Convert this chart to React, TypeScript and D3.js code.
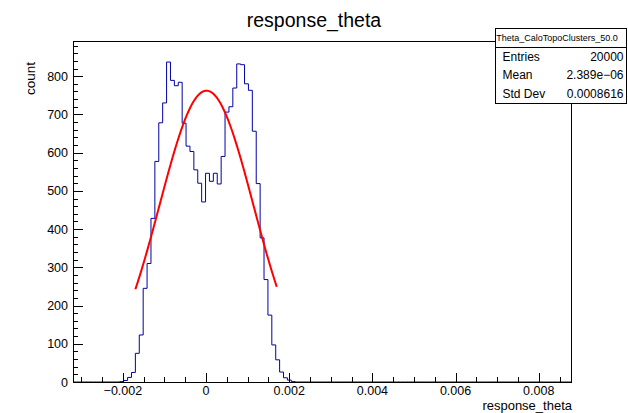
import React from "react";
import * as d3 from "d3";

// ---- data ----
const histLow = -0.0032;
const histHigh = 0.0088;
const nBins = 128;
const firstFilledBin = 12;
const counts = [1, 4, 12, 25, 75, 123, 245, 310, 428, 577, 678, 730, 837, 789, 775, 784, 677, 617, 603, 555, 520, 471, 546, 525, 546, 518, 590, 706, 720, 769, 832, 830, 780, 763, 656, 519, 377, 268, 175, 97, 58, 26, 11, 5, 1];

const fitConstant = 762;
const fitMean = 0.00001;
const fitSigma = 0.00113;
const fitRange = [-0.0017, 0.0017];

const xMajorTicks = [-0.002, 0, 0.002, 0.004, 0.006, 0.008];
const xTickLabels = ["\u22120.002", "0", "0.002", "0.004", "0.006", "0.008"];
const yMajorTicks = [0, 100, 200, 300, 400, 500, 600, 700, 800];
const yTickLabels = ["0", "100", "200", "300", "400", "500", "600", "700", "800"];
const yMax = 892;

const title = "response_theta";
const xTitle = "response_theta";
const yTitle = "count";
const statsName = "Theta_CaloTopoClusters_50.0";
const statsLabels = ["Entries", "Mean", "Std Dev"];
const statsValues = ["20000", "2.389e\u221206", "0.0008616"];

const FONT = "'Liberation Sans', Arial, Helvetica, sans-serif";

export default function App() {
  const W = 628, H = 413;
  const left = 73, right = 572, top = 41, bottom = 382;
  const x = d3.scaleLinear().domain([histLow, histHigh]).range([left, right]);
  const y = d3.scaleLinear().domain([0, yMax]).range([bottom, top]);
  const bw = (histHigh - histLow) / nBins;

  // histogram step path
  const full: number[] = new Array(nBins).fill(0);
  counts.forEach((c, i) => { full[firstFilledBin + i] = c; });
  let p = `M${x(histLow)},${y(0)}`;
  full.forEach((c, k) => {
    const x0 = x(histLow + k * bw), x1 = x(histLow + (k + 1) * bw);
    p += `L${x0},${y(c)}L${x1},${y(c)}`;
  });
  p += `L${x(histHigh)},${y(0)}`;

  // fit curve
  const fitPts: [number, number][] = [];
  const nFit = 200;
  for (let i = 0; i <= nFit; i++) {
    const v = fitRange[0] + (fitRange[1] - fitRange[0]) * i / nFit;
    fitPts.push([v, fitConstant * Math.exp(-0.5 * ((v - fitMean) / fitSigma) ** 2)]);
  }
  const fitLine = d3.line<[number, number]>().x(d => x(d[0])).y(d => y(d[1]))(fitPts) || "";

  const xMinor: number[] = [];
  for (let i = -6; i <= 17; i++) xMinor.push(i * 0.0005);
  const yMinor: number[] = [];
  for (let v = 0; v <= yMax; v += 20) yMinor.push(v);

  const sx = 495.5, sy = 28.5, sw = 131, sh = 75;
  const rowH = sh / 4;

  return (
    <svg width={W} height={H} style={{ position: "absolute", left: 0, top: 0, background: "#fff" }} fontFamily={FONT}>
      <rect x={0} y={0} width={W} height={H} fill="#fff" />
      <text x={314} y={27} textAnchor="middle" fontSize={19.5} fill="#000">{title}</text>

      {/* frame */}
      <rect x={left + 0.5} y={top + 0.5} width={right - left - 1} height={bottom - top} fill="none" stroke="#000" strokeWidth={1} shapeRendering="crispEdges" />

      {/* histogram */}
      <path d={p} fill="none" stroke="#0000a6" strokeWidth={1} />

      {/* fit */}
      <path d={fitLine} fill="none" stroke="#ff0000" strokeWidth={2} />

      {/* x axis */}
      <line x1={left} x2={right} y1={bottom + 0.5} y2={bottom + 0.5} stroke="#000" shapeRendering="crispEdges" />
      {xMinor.map((v, i) => (
        <line key={"xm" + i} x1={Math.round(x(v)) + 0.5} x2={Math.round(x(v)) + 0.5} y1={bottom} y2={bottom - 5} stroke="#000" shapeRendering="crispEdges" />
      ))}
      {xMajorTicks.map((v, i) => (
        <g key={"xt" + i}>
          <line x1={Math.round(x(v)) + 0.5} x2={Math.round(x(v)) + 0.5} y1={bottom} y2={bottom - 9} stroke="#000" shapeRendering="crispEdges" />
          <text x={x(v)} y={395} textAnchor="middle" fontSize={12.5} fill="#000">{xTickLabels[i]}</text>
        </g>
      ))}
      <text x={right} y={410} textAnchor="end" fontSize={13} fill="#000">{xTitle}</text>

      {/* y axis */}
      <line x1={left + 0.5} x2={left + 0.5} y1={top} y2={bottom} stroke="#000" shapeRendering="crispEdges" />
      {yMinor.map((v, i) => (
        <line key={"ym" + i} x1={left} x2={left + 5} y1={Math.round(y(v)) + 0.5} y2={Math.round(y(v)) + 0.5} stroke="#000" shapeRendering="crispEdges" />
      ))}
      {yMajorTicks.map((v, i) => (
        <g key={"yt" + i}>
          <line x1={left} x2={left + 10} y1={Math.round(y(v)) + 0.5} y2={Math.round(y(v)) + 0.5} stroke="#000" shapeRendering="crispEdges" />
          <text x={68} y={y(v) + 4.5} textAnchor="end" fontSize={12.5} fill="#000">{yTickLabels[i]}</text>
        </g>
      ))}
      <text transform={`translate(35,62) rotate(-90)`} textAnchor="end" fontSize={13.5} fill="#000">{yTitle}</text>

      {/* stats box */}
      <rect x={sx} y={sy} width={sw} height={sh} fill="#fff" stroke="#000" strokeWidth={1} shapeRendering="crispEdges" />
      <line x1={sx} x2={sx + sw} y1={sy + rowH} y2={sy + rowH} stroke="#000" shapeRendering="crispEdges" />
      <text x={sx + sw / 2 - 4} y={sy + rowH / 2 + 3} textAnchor="middle" fontSize={9} fill="#000">{statsName}</text>
      {statsLabels.map((l, i) => (
        <g key={"s" + i}>
          <text x={sx + 7} y={sy + rowH * (i + 1.5) + 4} fontSize={12} fill="#000">{l}</text>
          <text x={sx + sw - 3} y={sy + rowH * (i + 1.5) + 4} textAnchor="end" fontSize={12} fill="#000">{statsValues[i]}</text>
        </g>
      ))}
    </svg>
  );
}
